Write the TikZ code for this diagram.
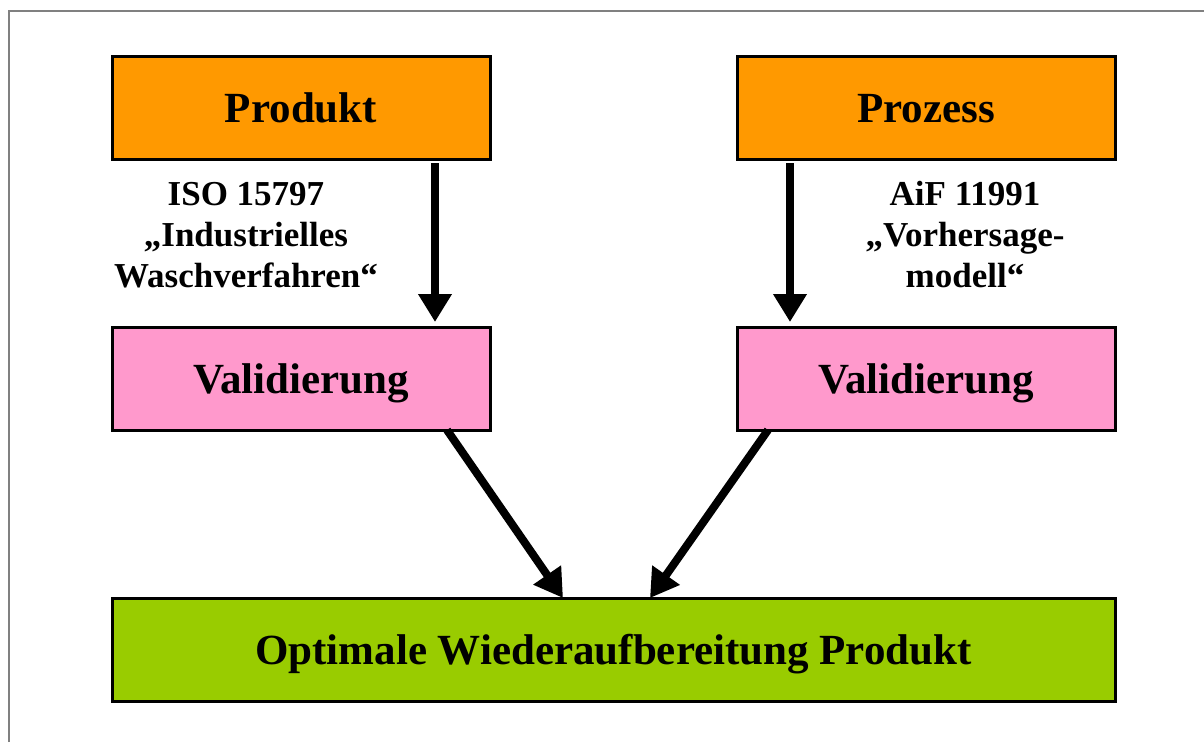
\documentclass[tikz,border=0pt]{standalone}
\usepackage{fontspec}
\setmainfont{Liberation Serif}
\usetikzlibrary{arrows.meta}
\definecolor{orangebox}{HTML}{FF9900}
\definecolor{pinkbox}{HTML}{FF99CC}
\definecolor{greenbox}{HTML}{99CC00}
\definecolor{framegray}{HTML}{808080}
\begin{document}
\begin{tikzpicture}[x=1pt,y=-1pt,
  box/.style={draw=black, line width=3pt, inner sep=0pt, outer sep=0pt,
    font=\fontsize{43}{48}\selectfont\bfseries,
    text height=30pt, text depth=0pt},
  lbl/.style={align=center, inner sep=0pt,
    font=\fontsize{35}{41}\selectfont\bfseries},
  arr/.style={line width=8pt, -{Triangle[length=28pt,width=32pt]}}
]
\useasboundingbox (0,0) rectangle (1204,742);
\draw[framegray, line width=2pt] (9,742) -- (9,11) -- (1204,11);

\node[box, fill=orangebox, minimum width=378pt, minimum height=103pt] (prod) at (301,107.5) {Produkt};
\node[box, fill=orangebox, minimum width=378pt, minimum height=103pt] (proz) at (926,107.5) {Prozess};
\node[box, fill=pinkbox, minimum width=378pt, minimum height=103pt] (val1) at (301,378.5) {Validierung};
\node[box, fill=pinkbox, minimum width=378pt, minimum height=103pt] (val2) at (926,378.5) {Validierung};
\node[box, fill=greenbox, minimum width=1003pt, minimum height=103pt] (opt) at (613.5,649.5) {Optimale Wiederaufbereitung Produkt};

\node[lbl, anchor=base] (iso) at (246,287) {ISO 15797\\„Industrielles\\Waschverfahren“};
\node[lbl, anchor=base] (aif) at (965,287) {AiF 11991\\„Vorhersage-\\modell“};

\draw[arr, shorten <=4pt, shorten >=5pt] ([xshift=134pt]prod.south) -- ([xshift=134pt]val1.north);
\draw[arr, shorten <=4pt, shorten >=5pt] ([xshift=-136pt]proz.south) -- ([xshift=-136pt]val2.north);
\draw[arr] ([xshift=146pt]val1.south) -- ([xshift=-50.5pt]opt.north);
\draw[arr] ([xshift=-158pt]val2.south) -- ([xshift=36.5pt]opt.north);
\end{tikzpicture}
\end{document}
